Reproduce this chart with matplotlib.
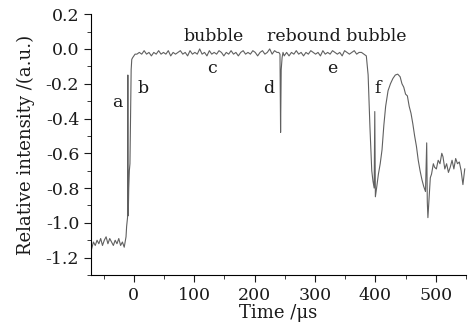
import numpy as np
import matplotlib
matplotlib.use('Agg')
import matplotlib.pyplot as plt
from matplotlib.ticker import MultipleLocator

# signal, segment by segment
pre_t = [-70, -67, -64, -61, -58, -55, -52, -49, -46, -43, -40, -37, -34, -31,
         -28, -25, -22, -19, -16, -13]
pre_v = [-1.15, -1.11, -1.13, -1.10, -1.12, -1.09, -1.13, -1.10, -1.08, -1.12,
         -1.09, -1.11, -1.13, -1.10, -1.12, -1.09, -1.13, -1.11, -1.14, -1.08]

rise_t = [-12, -10.5, -10, -9.6, -9.2, -8.5, -7.5, -6.5, -5.5, -4.5, -3.5, -2, 0, 2]
rise_v = [-1.02, -0.97, -0.15, -0.96, -0.94, -0.80, -0.70, -0.66, -0.40, -0.12,
          -0.06, -0.05, -0.04, -0.03]

bub_t = [5, 9, 13, 17, 21, 25, 29, 33, 37, 41, 45, 49, 53, 57, 61, 65, 69, 73,
         77, 81, 85, 89, 93, 97, 101, 105, 109, 113, 117, 121, 125, 129, 133,
         137, 141, 145, 149, 153, 157, 161, 165, 169, 173, 177, 181, 185, 189,
         193, 197, 201, 205, 209, 213, 217, 221, 225, 229, 233, 237, 240]
bub_v = [-0.03, -0.02, -0.03, -0.01, -0.03, -0.02, -0.04, -0.02, -0.03, -0.01,
         -0.03, -0.02, -0.03, -0.01, -0.04, -0.02, -0.03, -0.02, -0.01, -0.03,
         -0.02, -0.04, -0.01, -0.03, -0.02, -0.03, 0.00, -0.03, -0.02, -0.04,
         -0.01, -0.03, -0.02, -0.03, -0.01, -0.02, -0.04, -0.02, -0.03, -0.01,
         -0.03, -0.02, -0.04, -0.02, -0.01, -0.03, -0.02, -0.03, -0.01, -0.02,
         -0.04, -0.02, -0.01, -0.03, -0.02, 0.00, -0.03, -0.01, -0.02, -0.02]

dip_t = [242, 243, 244, 245.5, 247, 249]
dip_v = [-0.03, -0.48, -0.12, -0.05, -0.02, -0.04]

reb_t = [253, 257, 261, 265, 269, 273, 277, 281, 285, 289, 293, 297, 301, 305,
         309, 313, 317, 321, 325, 329, 333, 337, 341, 345, 349, 353, 357, 361,
         365, 369, 373, 377, 381, 385]
reb_v = [-0.02, -0.04, -0.02, -0.03, -0.01, -0.03, -0.02, -0.04, -0.02, -0.03,
         -0.01, -0.02, -0.03, -0.02, -0.04, -0.01, -0.03, -0.02, -0.03, -0.01,
         -0.02, -0.03, -0.02, -0.04, -0.01, -0.02, -0.03, -0.02, -0.01, -0.03,
         -0.02, -0.02, -0.03, -0.04]

tail_t = [388, 391, 394, 396, 398, 399, 400, 402, 405, 408, 411, 414, 417, 421,
          425, 429, 433, 437, 441, 444, 447, 450, 453, 456, 459, 462, 465, 468,
          471, 474, 477, 480, 483, 485, 486, 487, 489, 491, 493, 496, 498, 501,
          504, 507, 510, 512, 515, 518, 521, 524, 527, 530, 533, 536, 539, 542,
          545, 548]
tail_v = [-0.15, -0.45, -0.70, -0.76, -0.80, -0.36, -0.85, -0.80, -0.72, -0.66,
          -0.58, -0.44, -0.33, -0.24, -0.20, -0.17, -0.15, -0.145, -0.16, -0.20,
          -0.22, -0.26, -0.27, -0.33, -0.37, -0.43, -0.50, -0.56, -0.64, -0.70,
          -0.75, -0.79, -0.82, -0.54, -0.88, -0.97, -0.85, -0.74, -0.72, -0.66,
          -0.68, -0.69, -0.64, -0.66, -0.60, -0.62, -0.69, -0.66, -0.71, -0.68,
          -0.64, -0.69, -0.63, -0.66, -0.65, -0.70, -0.78, -0.69]

labels = ['a', 'b', 'bubble', 'c', 'd', 'rebound bubble', 'e', 'f']
label_t = [-27, 15, 132, 129, 223, 336, 328, 404]
label_v = [-0.31, -0.23, 0.07, -0.11, -0.23, 0.07, -0.11, -0.23]

t = np.concatenate([pre_t, rise_t, bub_t, dip_t, reb_t, tail_t])
v = np.concatenate([pre_v, rise_v, bub_v, dip_v, reb_v, tail_v])

plt.rcParams['font.family'] = 'DejaVu Serif'

fig = plt.figure(figsize=(4.74, 3.29), dpi=100)
ax = fig.add_axes([0.192, 0.164, 0.791, 0.793])
ax.plot(t, v, color='#606060', lw=0.8)

for s, x, y in zip(labels, label_t, label_v):
    ax.text(x, y, s, ha='center', va='center', fontsize=12.5, color='#1a1a1a')

ax.set_xlim(-71, 550)
ax.set_ylim(-1.3, 0.2)
ax.xaxis.set_major_locator(MultipleLocator(100))
ax.xaxis.set_minor_locator(MultipleLocator(50))
ax.yaxis.set_major_locator(MultipleLocator(0.2))
ax.yaxis.set_minor_locator(MultipleLocator(0.1))
ax.yaxis.set_major_formatter(plt.FuncFormatter(lambda y, p: '%.1f' % y))
ax.tick_params(which='major', direction='out', length=5, labelsize=12.5, colors='#1a1a1a')
ax.tick_params(which='minor', direction='out', length=3, colors='#1a1a1a')
ax.spines['top'].set_visible(False)
ax.spines['right'].set_visible(False)
ax.set_xlabel('Time /μs', fontsize=13, labelpad=0, color='#1a1a1a')
ax.set_ylabel('Relative intensity /(a.u.)', fontsize=13, labelpad=8, color='#1a1a1a')

fig.savefig('out.png', dpi=100)
